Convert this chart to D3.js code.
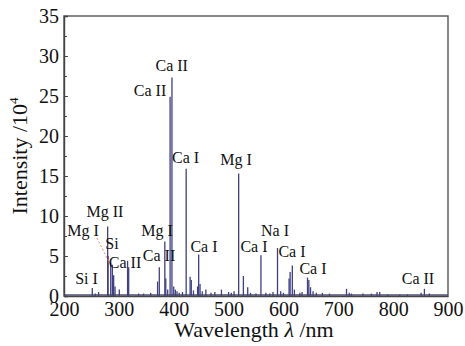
<!DOCTYPE html>
<html><head><meta charset="utf-8">
<script src="https://cdn.jsdelivr.net/npm/d3@7/dist/d3.min.js"></script>
<style>html,body{margin:0;padding:0;background:#fff;}svg{display:block;}</style>
</head><body>
<svg id="c" width="465" height="346"></svg>
<script>
// ---- data ----
const wavelengths = [251.6,257,263,279.6,280.3,285.2,288.2,290.5,293,300.8,315.9,317.9,336,345,358,370.6,373.7,383.8,385.5,389,393.4,396.8,400,403,406,410,416,422.7,429.9,432,436,443.5,445.5,448,452,458.6,468,475,487,500,505,510,518.4,527,534.9,540,550,559,568,575,581,589.2,595,600,610.3,612.2,616.2,620,630,634,643.9,646.3,649.4,654,660,671,684,715,720,724,745,760.5,770.6,775.5,790,812,826,851,857,866];
const intensities = [1.0,0.3,0.5,8.7,5.0,4.2,3.9,2.6,1.2,0.8,4.4,3.6,0.3,0.3,0.4,1.8,3.6,6.8,2.2,0.8,24.9,27.3,1.2,0.8,0.6,0.4,0.5,15.9,2.4,2.0,0.7,1.2,5.2,1.5,0.6,0.8,0.4,0.5,0.8,0.5,0.4,0.6,15.3,2.5,1.1,0.4,0.3,5.1,0.4,0.3,0.5,6.0,0.6,0.4,2.2,3.0,3.8,0.8,0.4,0.5,2.3,2.0,1.1,0.6,0.4,0.4,0.3,0.9,0.4,0.3,0.3,0.3,0.5,0.5,0.2,0.2,0.2,0.4,0.9,0.3];
const baselineLevel = 0.15;
const xTicks = [200,300,400,500,600,700,800,900];
const yTicks = [0,5,10,15,20,25,30,35];
const yMinorTicks = [2.5,7.5,12.5,17.5,22.5,27.5,32.5];
const labelTexts = ["Ca II","Ca II","Ca I","Mg I","Mg II","Mg I","Mg I","Si","Ca II","Ca II","Si I","Ca I","Ca I","Na I","Ca I","Ca I","Ca II"];
const labelLambda = [396.3,356.8,421.5,513.5,274.7,234.6,369.5,287.5,311.2,373.2,241,455.2,546.3,584.6,615.6,653.9,845.3];
const labelInt = [28.1,25.0,16.6,16.4,9.9,7.5,7.5,5.9,3.5,4.4,1.5,5.5,5.5,7.5,4.9,2.75,1.5];
const leaderLambda = [260.2,282];
const leaderInt = [7.25,4.25];

// ---- chart ----
const svg = d3.select("#c");
const L=64,R=448,T=16,B=296;
const x = d3.scaleLinear().domain([200,900]).range([L,R]);
const y = d3.scaleLinear().domain([0,35]).range([B,T]);
const FONT = "Liberation Serif";
const specColor = "#3f3f82";

svg.append("line").attr("x1",x(200)).attr("x2",x(900))
  .attr("y1",y(baselineLevel)).attr("y2",y(baselineLevel))
  .attr("stroke",specColor).attr("stroke-width",1);

svg.append("g").selectAll("line").data(wavelengths).join("line")
  .attr("x1",d=>x(d)).attr("x2",d=>x(d))
  .attr("y1",y(0)).attr("y2",(d,i)=>y(intensities[i]))
  .attr("stroke",specColor).attr("stroke-width",1.3);

svg.append("line")
  .attr("x1",x(leaderLambda[0])).attr("y1",y(leaderInt[0]))
  .attr("x2",x(leaderLambda[1])).attr("y2",y(leaderInt[1]))
  .attr("stroke","#f08070").attr("stroke-width",1).attr("stroke-dasharray","2,2");

svg.append("rect").attr("x",L).attr("y",T).attr("width",R-L).attr("height",B-T)
  .attr("fill","none").attr("stroke","#555").attr("stroke-width",1.4);

const yAxis = d3.axisLeft(y).tickValues(yTicks).tickSize(-4).tickPadding(5).tickFormat(d3.format("d"));
const gy = svg.append("g").attr("transform",`translate(${L},0)`).call(yAxis)
  .attr("font-family",FONT).attr("font-size",20);
gy.select(".domain").attr("stroke","#444").attr("stroke-width",1.4);
gy.selectAll(".tick line").attr("stroke","#444");
gy.selectAll("text").attr("font-family",FONT).attr("font-size",20).attr("fill","#111");
const yAxisMinor = d3.axisLeft(y).tickValues(yMinorTicks).tickSize(-3).tickFormat("");
const gym = svg.append("g").attr("transform",`translate(${L},0)`).call(yAxisMinor);
gym.select(".domain").remove();
gym.selectAll(".tick line").attr("stroke","#444");

const xAxis = d3.axisBottom(x).tickValues(xTicks).tickSize(0).tickPadding(6).tickFormat(d3.format("d"));
const gx = svg.append("g").attr("transform",`translate(0,${B})`).call(xAxis)
  .attr("font-family",FONT).attr("font-size",20);
gx.select(".domain").attr("stroke","#444").attr("stroke-width",1.4);
gx.selectAll("text").attr("font-family",FONT).attr("font-size",20).attr("fill","#111");

const xt = svg.append("text").attr("x",(L+R)/2-2).attr("y",337).attr("text-anchor","middle")
  .attr("font-family",FONT).attr("font-size",22).attr("fill","#111");
xt.append("tspan").text("Wavelength ");
xt.append("tspan").attr("font-style","italic").text("λ");
xt.append("tspan").text(" /nm");

const yt = svg.append("text").attr("transform","translate(27,156) rotate(-90)").attr("text-anchor","middle")
  .attr("font-family",FONT).attr("font-size",22).attr("fill","#111");
yt.append("tspan").text("Intensity /10");
yt.append("tspan").attr("font-size",13).attr("dy",-9).text("4");

svg.append("g").selectAll("text").data(labelTexts).join("text")
  .attr("x",(d,i)=>x(labelLambda[i])).attr("y",(d,i)=>y(labelInt[i]))
  .attr("text-anchor","middle").attr("font-family",FONT).attr("font-size",16).attr("fill","#111")
  .text(d=>d);
</script>
</body></html>
